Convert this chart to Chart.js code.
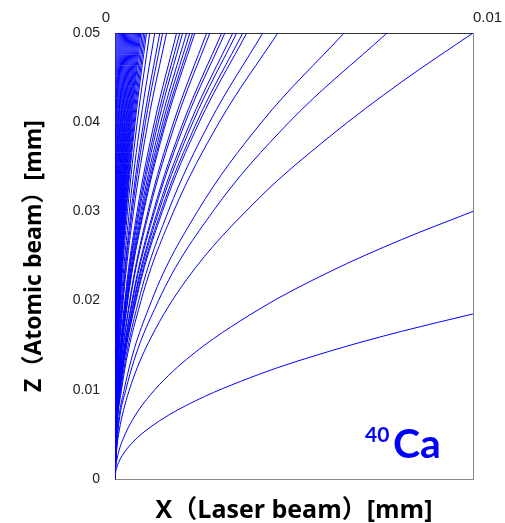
<!DOCTYPE html>
<html>
<head>
<meta charset="utf-8">
<script src="https://cdn.jsdelivr.net/npm/chart.js@4.4.0/dist/chart.umd.min.js"></script>
<style>
  body { margin: 0; background: #fff; }
  #wrap { width: 505px; height: 523px; }
</style>
</head>
<body>
<div id="wrap"><canvas id="myChart" width="505" height="523"></canvas></div>
<script>
// trajectories in micrometres, axis labels in mm
// curves that leave through the top edge: x at each z level
const zLevels = [0, 5, 10, 20, 30, 40, 50];
const topCurvesX = [
  [0, 0.076, 0.304, 1.216, 2.736, 4.864, 7.6],
  [0, 0.064, 0.256, 1.024, 2.304, 4.096, 6.4],
  [0, 0.0455, 0.182, 0.728, 1.638, 2.912, 4.55],
  [0, 0.0413, 0.165, 0.661, 1.487, 2.643, 4.13],
  [0, 0.0368, 0.147, 0.589, 1.325, 2.355, 3.68],
  [0, 0.0357, 0.143, 0.571, 1.285, 2.285, 3.57],
  [0, 0.034, 0.136, 0.544, 1.224, 2.176, 3.4],
  [0, 0.0329, 0.132, 0.526, 1.184, 2.106, 3.29],
  [0, 0.0307, 0.123, 0.491, 1.105, 1.965, 3.07],
  [0, 0.0298, 0.119, 0.477, 1.073, 1.907, 2.98],
  [0, 0.0265, 0.106, 0.424, 0.954, 1.696, 2.65],
  [0, 0.0256, 0.102, 0.41, 0.922, 1.638, 2.56],
  [0, 0.0223, 0.089, 0.357, 0.803, 1.427, 2.23],
  [0, 0.0217, 0.087, 0.347, 0.781, 1.389, 2.17],
  [0, 0.0209, 0.084, 0.334, 0.752, 1.338, 2.09],
  [0, 0.02, 0.08, 0.32, 0.72, 1.28, 2.0],
  [0, 0.0189, 0.076, 0.302, 0.68, 1.21, 1.89],
  [0, 0.0181, 0.072, 0.29, 0.652, 1.158, 1.81],
  [0, 0.0172, 0.069, 0.275, 0.619, 1.101, 1.72],
  [0, 0.0144, 0.058, 0.23, 0.518, 0.922, 1.44],
  [0, 0.0133, 0.053, 0.213, 0.479, 0.851, 1.33],
  [0, 0.0125, 0.05, 0.2, 0.45, 0.8, 1.25],
  [0, 0.0111, 0.044, 0.178, 0.4, 0.71, 1.11],
  [0, 0.0097, 0.039, 0.155, 0.349, 0.621, 0.97],
  [0, 0.0088, 0.035, 0.141, 0.317, 0.563, 0.88],
  [0, 0.0084, 0.034, 0.134, 0.302, 0.538, 0.84],
  [0, 0.008, 0.032, 0.128, 0.288, 0.512, 0.8],
  [0, 0.0076, 0.03, 0.122, 0.274, 0.486, 0.76],
  [0, 0.0072, 0.029, 0.115, 0.259, 0.461, 0.72],
  [0, 0.0069, 0.028, 0.11, 0.248, 0.442, 0.69],
  [0, 0.0066, 0.026, 0.106, 0.238, 0.422, 0.66],
  [0, 0.0063, 0.025, 0.101, 0.227, 0.403, 0.63],
  [0, 0.006, 0.024, 0.096, 0.216, 0.384, 0.6],
  [0, 0.0057, 0.023, 0.091, 0.205, 0.365, 0.57],
  [0, 0.0054, 0.022, 0.086, 0.194, 0.346, 0.54],
  [0, 0.0051, 0.02, 0.082, 0.184, 0.326, 0.51],
  [0, 0.0048, 0.019, 0.077, 0.173, 0.307, 0.48],
  [0, 0.0045, 0.018, 0.072, 0.162, 0.288, 0.45],
  [0, 0.0042, 0.017, 0.067, 0.151, 0.269, 0.42],
  [0, 0.0039, 0.016, 0.062, 0.14, 0.25, 0.39],
  [0, 0.0036, 0.014, 0.058, 0.13, 0.23, 0.36],
  [0, 0.0033, 0.013, 0.053, 0.119, 0.211, 0.33],
  [0, 0.003, 0.012, 0.048, 0.108, 0.192, 0.3],
  [0, 0.0027, 0.011, 0.043, 0.097, 0.173, 0.27],
  [0, 0.0024, 0.01, 0.038, 0.086, 0.154, 0.24],
  [0, 0.0021, 0.008, 0.034, 0.076, 0.134, 0.21],
  [0, 0.0018, 0.007, 0.029, 0.065, 0.115, 0.18],
  [0, 0.0015, 0.006, 0.024, 0.054, 0.096, 0.15],
  [0, 0.0012, 0.005, 0.019, 0.043, 0.077, 0.12],
  [0, 0.0009, 0.004, 0.014, 0.032, 0.058, 0.09],
  [0, 0.0006, 0.002, 0.01, 0.022, 0.038, 0.06],
  [0, 0.0003, 0.001, 0.005, 0.011, 0.019, 0.03]
];

// curves that leave through the right edge: z at each x level
const xLevels = [0, 0.02, 0.05, 0.1, 0.2, 0.5, 1, 2, 4, 6, 8, 10];
const sideCurvesZ = [
  [0, 0.83, 1.31, 1.85, 2.62, 4.14, 5.85, 8.27, 11.7, 14.33, 16.55, 18.5],
  [0, 1.34, 2.12, 3.0, 4.24, 6.71, 9.49, 13.42, 18.97, 23.24, 26.83, 30.0],
  [0, 2.24, 3.54, 5.0, 7.07, 11.18, 15.81, 22.36, 31.4, 38.4, 44.5, 50.0]
];

const xTickValues = [0, 10];
const xTickLabels = ['0', '0.01'];
const yTickLabels = ['0', '0.01', '0.02', '0.03', '0.04', '0.05'];
const xTitle = 'X（Laser beam）[mm]';
const yTitle = 'Z（Atomic beam）[mm]';

const lineColor = '#0000ff';
const tickFont = {family: '"Liberation Sans", Arial, sans-serif', size: 14};
const titleFamily = '"Open Sans", "Noto Sans CJK JP", sans-serif';

function curve(points) {
  return {
    data: points,
    showLine: true,
    borderColor: lineColor,
    borderWidth: 1,
    pointRadius: 0,
    cubicInterpolationMode: 'monotone',
    fill: false
  };
}

const datasets = [];
topCurvesX.forEach(xs => {
  datasets.push(curve(xs.map((x, i) => ({x: x, y: zLevels[i]}))));
});
sideCurvesZ.forEach(zs => {
  datasets.push(curve(zs.map((z, i) => ({x: xLevels[i], y: z}))));
});

// tick labels on the top axis sit just outside the plot corners
const topLabels = {
  id: 'topLabels',
  afterDraw(chart) {
    const ctx = chart.ctx;
    const sx = chart.scales.x;
    ctx.save();
    ctx.font = '15px "Liberation Sans", Arial, sans-serif';
    ctx.fillStyle = '#222';
    ctx.textBaseline = 'middle';
    xTickValues.forEach((v, i) => {
      const px = sx.getPixelForValue(v);
      if (i === 0) {
        ctx.textAlign = 'right';
        ctx.fillText(xTickLabels[i], px - 5, 18);
      } else {
        ctx.textAlign = 'left';
        ctx.fillText(xTickLabels[i], px, 18);
      }
    });
    ctx.restore();
  }
};

// isotope tag in the lower right corner
const isotopeTag = {
  id: 'isotopeTag',
  afterDraw(chart) {
    const ctx = chart.ctx;
    const area = chart.chartArea;
    ctx.save();
    ctx.fillStyle = lineColor;
    ctx.textBaseline = 'alphabetic';
    ctx.textAlign = 'left';
    ctx.font = 'bold 21px Lato, sans-serif';
    ctx.fillText('40', area.right - 108, area.bottom - 37);
    ctx.font = 'bold 41px Lato, sans-serif';
    ctx.fillText('Ca', area.right - 80, area.bottom - 21);
    ctx.restore();
  }
};

const config = {
  type: 'scatter',
  data: {datasets: datasets},
  options: {
    responsive: false,
    animation: false,
    layout: {padding: 0},
    plugins: {
      legend: {display: false},
      tooltip: {enabled: false}
    },
    scales: {
      x: {
        type: 'linear',
        position: 'top',
        min: 0,
        max: 10,
        ticks: {display: false},
        grid: {display: false, drawTicks: false},
        border: {display: true, color: '#333', width: 1},
        afterFit: s => { s.height = 33; }
      },
      x2: {
        type: 'linear',
        position: 'bottom',
        min: 0,
        max: 10,
        ticks: {display: false},
        grid: {display: false, drawTicks: false},
        border: {display: true, color: '#888', width: 1},
        title: {
          display: true,
          text: xTitle,
          color: '#000',
          font: {family: titleFamily, size: 25, weight: 'bold', lineHeight: 1},
          padding: {top: 0, bottom: 0}
        },
        afterFit: s => { s.height = 44; }
      },
      y: {
        type: 'linear',
        position: 'left',
        min: 0,
        max: 50,
        ticks: {
          stepSize: 10,
          padding: 15,
          color: '#222',
          font: tickFont,
          callback: (val, index) => yTickLabels[index]
        },
        grid: {display: false, drawTicks: false},
        border: {display: true, color: '#555', width: 1},
        title: {
          display: true,
          text: yTitle,
          color: '#000',
          font: {family: titleFamily, size: 23, weight: 'bold', lineHeight: 1},
          padding: {top: 23, bottom: 0}
        },
        afterFit: s => { s.width = 115; }
      },
      y2: {
        type: 'linear',
        position: 'right',
        min: 0,
        max: 50,
        ticks: {display: false},
        grid: {display: false, drawTicks: false},
        border: {display: true, color: '#888', width: 1},
        afterFit: s => { s.width = 32; }
      }
    }
  },
  plugins: [topLabels, isotopeTag]
};

var ctx = document.getElementById('myChart').getContext('2d');
var myChart = new Chart(ctx, config);
</script>
</body>
</html>
